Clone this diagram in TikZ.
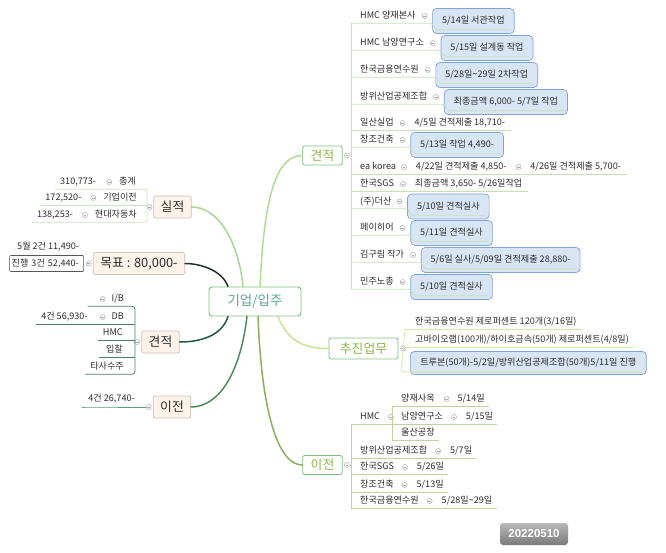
\documentclass[tikz,border=0pt]{standalone}
\usepackage{fontspec}
\setmainfont{Noto Sans CJK KR}
\newfontfamily\datefont{Liberation Sans}
\usepackage{tikz}
\usetikzlibrary{positioning}

\definecolor{hubgreen}{RGB}{120,190,120}
\definecolor{hubtext}{RGB}{90,168,148}
\definecolor{topgreen}{RGB}{125,190,125}
\definecolor{topolive}{RGB}{140,180,70}
\definecolor{peach}{RGB}{253,243,234}
\definecolor{peachline}{RGB}{205,192,180}
\definecolor{notefill}{RGB}{216,229,245}
\definecolor{noteline}{RGB}{128,164,212}
\definecolor{textgray}{RGB}{45,45,45}
\definecolor{mkgray}{RGB}{170,170,170}
\definecolor{lineR}{RGB}{198,226,180}
\definecolor{lineP}{RGB}{214,232,168}
\definecolor{lineE}{RGB}{192,210,160}
\definecolor{lineS}{RGB}{200,230,192}
\definecolor{lineG}{RGB}{80,125,112}
\definecolor{lineI}{RGB}{92,156,116}
\definecolor{brPerf}{RGB}{168,214,145}
\definecolor{brEstR}{RGB}{178,220,150}
\definecolor{brGoal}{RGB}{30,50,45}
\definecolor{brEstL}{RGB}{30,90,70}
\definecolor{brMoveL}{RGB}{80,140,95}
\definecolor{brMoveR}{RGB}{140,175,95}
\definecolor{brPush}{RGB}{200,228,150}

\newcommand{\itemfont}{\fontsize{9.1}{10.5}\selectfont}
\newcommand{\topicfont}{\fontsize{12.8}{14}\selectfont}

\begin{document}
\begin{tikzpicture}[x=1pt, y=-1pt,
    hub/.style={draw=hubgreen, line width=0.9pt, rounded corners=3pt, fill=white,
                text=hubtext, minimum width=92pt, minimum height=29pt,
                font=\fontsize{13.5}{16}\selectfont},
    topicR/.style={draw=topgreen, line width=0.8pt, rounded corners=2pt, fill=white,
                   text=topolive, minimum height=19pt, inner xsep=8pt, font=\topicfont},
    topicL/.style={draw=peachline, line width=0.7pt, rounded corners=2pt, fill=peach,
                   text=textgray, minimum height=22pt, inner xsep=7pt, font=\topicfont},
    note/.style={draw=noteline, line width=0.7pt, rounded corners=4pt, fill=notefill,
                 minimum height=25pt, inner xsep=9.5pt, font=\itemfont, text=textgray,
                 yshift=-5pt},
    itm/.style={inner xsep=0pt, inner ysep=3pt, text height=6.8pt, text depth=1.4pt,
                font=\itemfont, text=textgray},
    mk/.style={circle, draw=mkgray, fill=white, line width=0.5pt, inner sep=0pt,
               minimum size=5pt,
               path picture={\draw[mkgray, line width=0.5pt]
                 ([xshift=-1.4pt]path picture bounding box.center) --
                 ([xshift=1.4pt]path picture bounding box.center);}},
    branch/.style={line width=1.5pt, line cap=round},
    ul/.style={line width=0.8pt, rounded corners=2pt},
    badge/.style={rounded corners=3pt, top color=gray!55, bottom color=gray!95!black,
                  text=white, minimum width=68pt, minimum height=22pt,
                  font=\datefont\bfseries\fontsize{11.5}{13}\selectfont}
]
\useasboundingbox (0,0) rectangle (666,553);
\fill[white] (0,0) rectangle (666,553);

% hub and topics
\node[hub] (hub) at (255,301.5) {기업/입주};
\node[topicR] (estR) at (322.5,155.5) {견적};
\node[topicR, minimum width=69pt, minimum height=21pt] (push) at (363.5,348.5) {추진업무};
\node[topicR] (moveR) at (322.5,465) {이전};
\node[topicL] (perf) at (172.5,207) {실적};
\node[topicL] (goal) at (139,263.5) {목표 : 80,000-};
\node[topicL] (estL) at (160.5,342) {견적};
\node[topicL] (moveL) at (172,407) {이전};

% branches
\draw[branch, brPerf] ([xshift=-12pt]hub.north) .. controls (239,245) and (220,207) .. (perf.east);
\draw[branch, brEstR] ([xshift=5pt]hub.north) .. controls (264,200) and (275,155.5) .. (estR.west);
\draw[branch, brGoal] ([xshift=-27pt]hub.north) .. controls (222,270) and (200,263.5) .. (goal.east);
\draw[branch, brEstL] ([xshift=-27pt]hub.south) .. controls (222,336) and (200,342) .. (estL.east);
\draw[branch, brMoveL] ([xshift=-8pt]hub.south) .. controls (240,375) and (218,407) .. (moveL.east);
\draw[branch, brMoveR] ([xshift=3pt]hub.south) .. controls (262,420) and (280,465) .. (moveR.west);
\draw[branch, brPush] ([xshift=23pt]hub.south) .. controls (288,342) and (305,348.5) .. (push.west);

\node[mk, right=1.5pt of estR] (estRm) {};
\node[mk, right=2pt of push] (pushm) {};
\node[mk, right=1.5pt of moveR] (moveRm) {};
\node[mk, left=1pt of perf] (perfm) {};
\node[mk, left=1.5pt of goal] (goalm) {};
\node[mk, left=1.5pt of estL] (estLm) {};
\node[mk, left=1.5pt of moveL] (moveLm) {};

% estimates (right)
\coordinate (vR) at (351,0);
\node[itm, anchor=west] (gA) at (360,16) {HMC 양재본사};
\node[mk, right=6pt of gA] (gAm) {};
\node[note, right=5pt of gAm] (gAn) {5/14일 서관작업};
\node[itm, anchor=west] (gB) at (360,43) {HMC 남양연구소};
\node[mk, right=6pt of gB] (gBm) {};
\node[note, right=5pt of gBm] (gBn) {5/15일 설계동 작업};
\node[itm, anchor=west] (gC) at (360,70) {한국금융연수원};
\node[mk, right=6pt of gC] (gCm) {};
\node[note, right=5pt of gCm] (gCn) {5/28일\textasciitilde29일 2차작업};
\node[itm, anchor=west] (gD) at (360,97) {방위산업공제조합};
\node[mk, right=6pt of gD] (gDm) {};
\node[note, right=5pt of gDm] (gDn) {최종금액 6,000- 5/7일 작업};
\node[itm, anchor=west] (gE) at (360,123) {일산실업};
\node[mk, right=6pt of gE] (gEm) {};
\node[itm, right=9pt of gEm] (gEt) {4/5일 견적제출 18,710-};
\node[itm, anchor=west] (gF) at (360,140) {창조건축};
\node[mk, right=6pt of gF] (gFm) {};
\node[note, right=5pt of gFm] (gFn) {5/13일 작업 4,490-};
\node[itm, anchor=west] (gG) at (360,167) {ea korea};
\node[mk, right=5pt of gG] (gGm) {};
\node[itm, right=9pt of gGm] (gGt) {4/22일 견적제출 4,850-};
\node[mk, right=9pt of gGt] (gGm2) {};
\node[itm, right=9pt of gGm2] (gGt2) {4/26일 견적제출 5,700-};
\node[itm, anchor=west] (gH) at (360,184) {한국SGS};
\node[mk, right=6pt of gH] (gHm) {};
\node[itm, right=9pt of gHm] (gHt) {최종금액 3,650- 5/26일작업};
\node[itm, anchor=west] (gI) at (360,201.5) {(주)더산};
\node[mk, right=5pt of gI] (gIm) {};
\node[note, right=5pt of gIm] (gIn) {5/10일 견적실사};
\node[itm, anchor=west] (gJ) at (360,228) {페이히어};
\node[mk, right=6pt of gJ] (gJm) {};
\node[note, right=5pt of gJm] (gJn) {5/11일 견적실사};
\node[itm, anchor=west] (gK) at (360,255) {김구림 작가};
\node[mk, right=6pt of gK] (gKm) {};
\node[note, right=5pt of gKm] (gKn) {5/6일 실사/5/09일 견적제출 28,880-};
\node[itm, anchor=west] (gL) at (360,282) {민주노총};
\node[mk, right=6pt of gL] (gLm) {};
\node[note, right=5pt of gLm] (gLn) {5/10일 견적실사};

\draw[ul, lineR] (estRm.east) -- (vR |- estRm.east);
\draw[ul, lineR] (vR |- gA.south) -- (vR |- gL.south);
\draw[ul, lineR] (vR |- gA.south) -- (gAn.west |- gA.south) -- ([shift={(4pt,4pt)}]gAn.south west) -- ([shift={(-4pt,4pt)}]gAn.south east);
\draw[ul, lineR] (vR |- gB.south) -- (gBn.west |- gB.south) -- ([shift={(4pt,4pt)}]gBn.south west) -- ([shift={(-4pt,4pt)}]gBn.south east);
\draw[ul, lineR] (vR |- gC.south) -- (gCn.west |- gC.south) -- ([shift={(4pt,4pt)}]gCn.south west) -- ([shift={(-4pt,4pt)}]gCn.south east);
\draw[ul, lineR] (vR |- gD.south) -- (gDn.west |- gD.south) -- ([shift={(4pt,4pt)}]gDn.south west) -- ([shift={(-4pt,4pt)}]gDn.south east);
\draw[ul, lineR] (vR |- gE.south) -- ([xshift=6pt]gEt.south east);
\draw[ul, lineR] (vR |- gF.south) -- (gFn.west |- gF.south) -- ([shift={(4pt,4pt)}]gFn.south west) -- ([shift={(-4pt,4pt)}]gFn.south east);
\draw[ul, lineR] (vR |- gG.south) -- ([xshift=6pt]gGt2.south east);
\draw[ul, lineR] (vR |- gH.south) -- ([xshift=6pt]gHt.south east);
\draw[ul, lineR] (vR |- gI.south) -- (gIn.west |- gI.south) -- ([shift={(4pt,4pt)}]gIn.south west) -- ([shift={(-4pt,4pt)}]gIn.south east);
\draw[ul, lineR] (vR |- gJ.south) -- (gJn.west |- gJ.south) -- ([shift={(4pt,4pt)}]gJn.south west) -- ([shift={(-4pt,4pt)}]gJn.south east);
\draw[ul, lineR] (vR |- gK.south) -- (gKn.west |- gK.south) -- ([shift={(4pt,4pt)}]gKn.south west) -- ([shift={(-4pt,4pt)}]gKn.south east);
\draw[ul, lineR] (vR |- gL.south) -- (gLn.west |- gL.south) -- ([shift={(4pt,4pt)}]gLn.south west) -- ([shift={(-4pt,4pt)}]gLn.south east);

% work in progress
\coordinate (vP) at (405,0);
\node[itm, anchor=west] (pA) at (415,322) {한국금융연수원 제로퍼센트 120개(3/16일)};
\node[itm, anchor=west] (pB) at (415,340) {고바이오랩(100개)/하이호금속(50개) 제로퍼센트(4/8일)};
\node[note, anchor=west, yshift=5pt, minimum height=23pt, inner xsep=10pt] (pC) at (410,363) {트루본(50개)-5/2일/방위산업공제조합(50개)5/11일 진행};
\draw[ul, lineP] (pushm.east) -- (vP |- pushm.east);
\draw[ul, lineP] (vP |- pA.south) -- ([xshift=6pt]pA.south east);
\draw[ul, lineP] (vP |- pB.south) -- ([xshift=5pt]pB.south east);
\draw[ul, lineP] (vP |- pA.south) -- ([shift={(-4pt,3pt)}]pC.south -| vP) -- ([shift={(-4pt,3pt)}]pC.south east);

% moving (right)
\coordinate (vE) at (351,0);
\coordinate (vH) at (392,0);
\node[itm, anchor=west] (eA) at (360,417) {HMC};
\node[mk, right=8pt of eA] (eAm) {};
\node[itm, anchor=west] (eA1) at (401,399) {양재사옥};
\node[mk, right=9pt of eA1] (eA1m) {};
\node[itm, right=8pt of eA1m] (eA1t) {5/14일};
\node[itm, anchor=west] (eA2) at (401,417) {남양연구소};
\node[mk, right=8pt of eA2] (eA2m) {};
\node[itm, right=9pt of eA2m] (eA2t) {5/15일};
\node[itm, anchor=west] (eA3) at (401,433) {울산공장};
\node[itm, anchor=west] (eB) at (360,451) {방위산업공제조합};
\node[mk, right=8pt of eB] (eBm) {};
\node[itm, right=9pt of eBm] (eBt) {5/7일};
\node[itm, anchor=west] (eC) at (360,467) {한국SGS};
\node[mk, right=8pt of eC] (eCm) {};
\node[itm, right=9pt of eCm] (eCt) {5/26일};
\node[itm, anchor=west] (eD) at (360,485) {창조건축};
\node[mk, right=8pt of eD] (eDm) {};
\node[itm, right=9pt of eDm] (eDt) {5/13일};
\node[itm, anchor=west] (eE) at (360,501) {한국금융연수원};
\node[mk, right=8pt of eE] (eEm) {};
\node[itm, right=9pt of eEm] (eEt) {5/28일\textasciitilde29일};

\draw[ul, lineE] (moveRm.east) -- (vE |- moveRm.east);
\draw[ul, lineE] (vE |- eA.south) -- (vE |- eE.south);
\draw[ul, lineE] (vE |- eA.south) -- (vH |- eA.south);
\draw[ul, lineE] (vH |- eA1.south) -- (vH |- eA3.south);
\draw[ul, lineE] (vH |- eA1.south) -- ([xshift=4pt]eA1t.south east);
\draw[ul, lineE] (vH |- eA2.south) -- ([xshift=4pt]eA2t.south east);
\draw[ul, lineE] (vH |- eA3.south) -- ([xshift=4pt]eA3.south east);
\draw[ul, lineE] (vE |- eB.south) -- ([xshift=4pt]eBt.south east);
\draw[ul, lineE] (vE |- eC.south) -- ([xshift=4pt]eCt.south east);
\draw[ul, lineE] (vE |- eD.south) -- ([xshift=4pt]eDt.south east);
\draw[ul, lineE] (vE |- eE.south) -- ([xshift=4pt]eEt.south east);

% results (left)
\coordinate (vS) at (147,0);
\node[itm, anchor=east] (sA) at (136,182) {총계};
\node[mk, left=7pt of sA] (sAm) {};
\node[itm, left=10pt of sAm] (sAv) {310,773-};
\node[itm, anchor=east] (sB) at (137,198) {기업이전};
\node[mk, left=7pt of sB] (sBm) {};
\node[itm, left=9pt of sBm] (sBv) {172,520-};
\node[itm, anchor=east] (sC) at (137,215) {현대자동차};
\node[mk, left=7pt of sC] (sCm) {};
\node[itm, left=9pt of sCm] (sCv) {138,253-};
\draw[ul, lineS] (perfm.west) -- (vS |- perfm.west);
\draw[ul, lineS] ([xshift=-5pt]sAv.south west) -- (vS |- sA.south) -- (vS |- sC.south) -- ([xshift=-5pt]sCv.south west);
\draw[ul, lineS] ([xshift=-4pt]sBv.south west) -- (vS |- sB.south);

% target (left)
\node[draw=textgray!80, line width=0.6pt, rounded corners=1pt, left=2pt of goalm, font=\itemfont, text=textgray,
      text width=70pt, align=left, inner xsep=2pt, minimum height=16pt] (goalA) {진행 3건 52,440-};
\node[itm, anchor=west] (goalB) at (17,247) {5월 2건 11,490-};

% estimates (left)
\coordinate (vG) at (135,0);
\node[itm, anchor=east] (kA) at (124,299) {I/B};
\node[mk, left=6pt of kA] (kAm) {};
\node[itm, anchor=east] (kB) at (124,317) {DB};
\node[mk, left=6pt of kB] (kBm) {};
\node[itm, left=12pt of kBm] (kBv) {4건 56,930-};
\node[itm, anchor=east] (kC) at (123,333) {HMC};
\node[itm, anchor=east] (kD) at (123,350) {입찰};
\node[itm, anchor=east] (kE) at (124,367) {타사수주};
\draw[ul, lineG] (estLm.west) -- (vG |- estLm.west);
\draw[ul, lineG, rounded corners=3pt] ([xshift=-15pt]kAm.center |- kA.south) -- (vG |- kA.south) -- (vG |- kE.south) -- ([xshift=-5pt]kE.south west);
\draw[ul, lineG] ([xshift=-5pt]kBv.south west) -- (vG |- kB.south);
\draw[ul, lineG] ([xshift=-5pt]kC.south west) -- (vG |- kC.south);
\draw[ul, lineG] ([xshift=-7pt]kD.south west) -- (vG |- kD.south);

% moving (left)
\node[itm, anchor=east] (mA) at (135,399) {4건 26,740-};
\draw[ul, lineI] (moveLm.west) -- (moveLm.west -| mA.south west) -- ++(-6,0);

% date
\node[badge] (date) at (534,534) {20220510};
\end{tikzpicture}
\end{document}
